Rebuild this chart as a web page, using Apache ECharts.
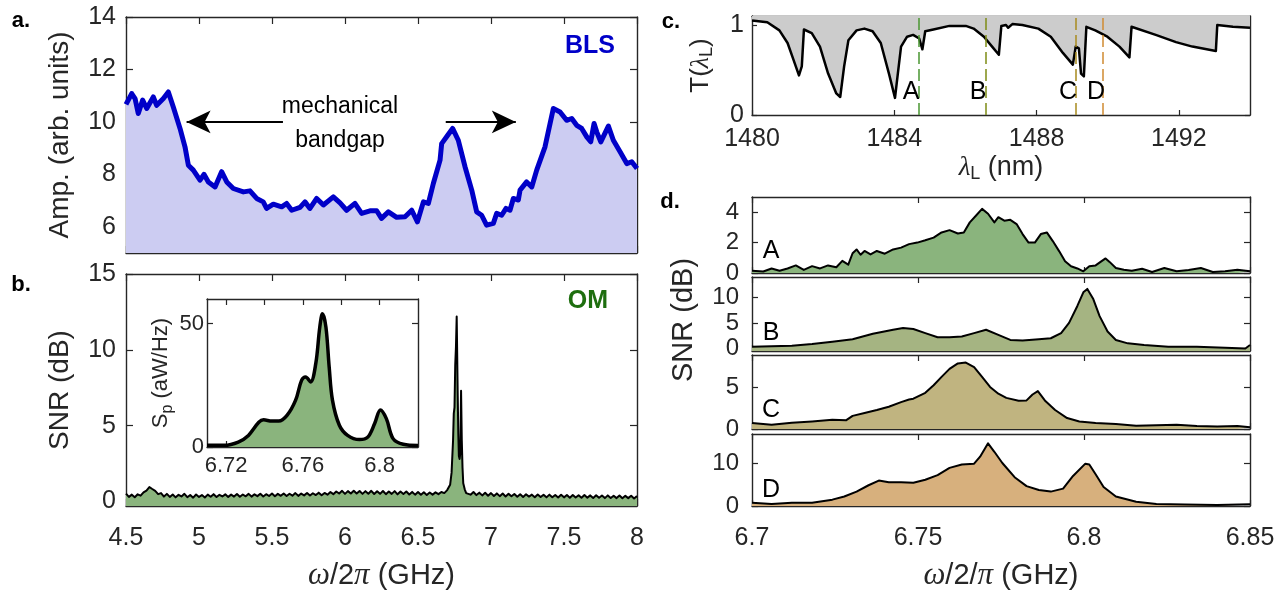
<!DOCTYPE html>
<html>
<head>
<meta charset="utf-8">
<title>BLS / OM spectra</title>
<script src="https://cdn.jsdelivr.net/npm/echarts@6/dist/echarts.min.js"></script>
<style>
  html, body { margin: 0; padding: 0; background: #fff; }
  #main { width: 1283px; height: 593px; }
</style>
</head>
<body>
<div id="main"></div>
<script>
// ---- a. BLS amplitude vs frequency (GHz, arb. units)
var blsData = [[4.500,10.67],[4.539,11.08],[4.562,10.89],[4.584,10.32],[4.614,10.83],[4.642,10.51],[4.687,10.95],[4.710,10.63],[4.756,10.89],[4.790,11.14],[4.824,10.57],[4.870,9.75],[4.904,9.05],[4.927,8.35],[4.961,8.16],[5.007,7.78],[5.034,8.00],[5.064,7.71],[5.110,7.52],[5.155,8.10],[5.190,7.71],[5.235,7.46],[5.304,7.33],[5.349,7.37],[5.395,7.08],[5.440,6.95],[5.463,6.70],[5.509,6.86],[5.566,6.76],[5.600,6.89],[5.635,6.63],[5.692,6.74],[5.726,6.95],[5.760,6.70],[5.806,7.08],[5.852,6.83],[5.920,7.14],[5.966,6.91],[6.011,6.63],[6.068,6.89],[6.114,6.51],[6.171,6.61],[6.217,6.61],[6.250,6.32],[6.297,6.57],[6.354,6.36],[6.411,6.38],[6.457,6.63],[6.496,6.19],[6.537,6.95],[6.571,6.89],[6.605,7.65],[6.651,8.54],[6.662,9.17],[6.696,9.43],[6.737,9.75],[6.776,9.30],[6.822,8.29],[6.868,7.40],[6.902,6.57],[6.936,6.44],[6.970,6.06],[7.016,6.13],[7.039,6.51],[7.073,6.44],[7.103,6.70],[7.130,6.63],[7.153,7.08],[7.187,7.02],[7.199,7.40],[7.244,7.71],[7.279,7.52],[7.313,8.16],[7.370,9.05],[7.427,10.51],[7.473,10.38],[7.518,10.06],[7.553,10.13],[7.587,9.87],[7.621,9.75],[7.656,9.43],[7.683,9.24],[7.706,9.94],[7.724,9.62],[7.752,9.24],[7.804,9.84],[7.838,9.30],[7.884,8.86],[7.930,8.41],[7.964,8.48],[8.000,8.22]];
var aYTicks = [6, 8, 10, 12, 14];
var abXTicks = [4.5, 5, 5.5, 6, 6.5, 7, 7.5, 8];

// ---- b. OM SNR (dB)
var omData = [[4.50,0.52],[4.52,0.30],[4.54,0.45],[4.56,0.28],[4.58,0.47],[4.60,0.38],[4.62,0.60],[4.64,0.72],[4.66,0.95],[4.68,0.82],[4.70,0.70],[4.72,0.48],[4.74,0.55],[4.76,0.32],[4.78,0.50],[4.80,0.30],[4.82,0.46],[4.84,0.27],[4.86,0.44],[4.88,0.33],[4.90,0.50],[4.92,0.28],[4.94,0.43],[4.96,0.25],[4.98,0.46],[5.00,0.30],[5.02,0.42],[5.04,0.26],[5.06,0.45],[5.08,0.31],[5.10,0.48],[5.12,0.29],[5.14,0.44],[5.16,0.33],[5.18,0.47],[5.20,0.30],[5.22,0.45],[5.24,0.32],[5.26,0.49],[5.28,0.31],[5.30,0.46],[5.32,0.34],[5.34,0.50],[5.36,0.32],[5.38,0.47],[5.40,0.35],[5.42,0.51],[5.44,0.33],[5.46,0.48],[5.48,0.36],[5.50,0.52],[5.52,0.34],[5.54,0.50],[5.56,0.37],[5.58,0.53],[5.60,0.36],[5.62,0.51],[5.64,0.38],[5.66,0.55],[5.68,0.37],[5.70,0.52],[5.72,0.40],[5.74,0.56],[5.76,0.39],[5.78,0.54],[5.80,0.42],[5.82,0.58],[5.84,0.41],[5.86,0.56],[5.88,0.45],[5.90,0.62],[5.92,0.48],[5.94,0.66],[5.96,0.52],[5.98,0.70],[6.00,0.50],[6.02,0.68],[6.04,0.53],[6.06,0.71],[6.08,0.52],[6.10,0.69],[6.12,0.50],[6.14,0.68],[6.16,0.51],[6.18,0.70],[6.20,0.49],[6.22,0.67],[6.24,0.50],[6.26,0.69],[6.28,0.48],[6.30,0.66],[6.32,0.50],[6.34,0.68],[6.36,0.47],[6.38,0.65],[6.40,0.49],[6.42,0.66],[6.44,0.46],[6.46,0.63],[6.48,0.45],[6.50,0.62],[6.52,0.44],[6.54,0.60],[6.56,0.43],[6.58,0.59],[6.60,0.45],[6.62,0.60],[6.64,0.48],[6.66,0.62],[6.68,0.55],[6.70,0.75],[6.72,1.1],[6.73,1.9],[6.74,4.0],[6.745,5.8],[6.75,6.2],[6.755,9.0],[6.76,10.2],[6.765,12.2],[6.768,10.0],[6.772,7.0],[6.776,4.5],[6.78,3.0],[6.785,2.8],[6.79,3.2],[6.795,7.3],[6.80,4.0],[6.805,2.2],[6.81,1.2],[6.82,0.8],[6.83,0.55],[6.84,0.68],[6.86,0.45],[6.88,0.62],[6.90,0.42],[6.92,0.58],[6.94,0.40],[6.96,0.57],[6.98,0.38],[7.00,0.55],[7.02,0.36],[7.04,0.53],[7.06,0.35],[7.08,0.52],[7.10,0.33],[7.12,0.50],[7.14,0.34],[7.16,0.49],[7.18,0.31],[7.20,0.48],[7.22,0.30],[7.24,0.47],[7.26,0.32],[7.28,0.45],[7.30,0.28],[7.32,0.46],[7.34,0.29],[7.36,0.44],[7.38,0.27],[7.40,0.45],[7.42,0.28],[7.44,0.43],[7.46,0.26],[7.48,0.44],[7.50,0.27],[7.52,0.42],[7.54,0.25],[7.56,0.43],[7.58,0.26],[7.60,0.41],[7.62,0.24],[7.64,0.42],[7.66,0.25],[7.68,0.40],[7.70,0.23],[7.72,0.41],[7.74,0.24],[7.76,0.39],[7.78,0.22],[7.80,0.40],[7.82,0.23],[7.84,0.38],[7.86,0.22],[7.88,0.39],[7.90,0.21],[7.92,0.37],[7.94,0.22],[7.96,0.38],[7.98,0.20],[8.00,0.35]];
var bYTicks = [0, 5, 10, 15];

// ---- b inset: S_p (aW/Hz)
var insetData = [[6.710,0.7],[6.719,0.7],[6.7263,2.0],[6.7316,4.7],[6.737,10.0],[6.7395,11.0],[6.7438,10.5],[6.7474,10.5],[6.7517,12.8],[6.7562,19.0],[6.7593,27.0],[6.7614,28.4],[6.764,26.4],[6.7667,33.8],[6.7688,48.6],[6.7702,54.0],[6.772,48.6],[6.7737,32.4],[6.7754,19.0],[6.779,8.8],[6.7833,4.7],[6.7895,3.0],[6.7938,4.0],[6.7974,9.5],[6.8004,15.0],[6.8035,11.5],[6.807,3.4],[6.8123,1.1],[6.820,0.6]];
var insXTicks = [6.72, 6.74, 6.76, 6.78, 6.8];
var insXLabels = [6.72, 6.76, 6.8];
var insYTicks = [0, 50];

// ---- c. transmission T(lambda)
var transData = [[1480.00,1.05],[1480.43,1.03],[1480.77,0.94],[1481.00,0.80],[1481.17,0.61],[1481.32,0.44],[1481.40,0.54],[1481.46,0.95],[1481.68,0.91],[1481.91,0.76],[1482.14,0.46],[1482.37,0.24],[1482.48,0.20],[1482.59,0.54],[1482.71,0.83],[1482.94,0.94],[1483.16,0.96],[1483.39,0.93],[1483.62,0.80],[1483.85,0.46],[1484.02,0.19],[1484.10,0.46],[1484.19,0.76],[1484.36,0.87],[1484.53,0.89],[1484.70,0.85],[1484.79,0.73],[1484.87,0.93],[1485.10,0.95],[1485.55,0.99],[1486.01,0.99],[1486.23,0.96],[1486.52,0.87],[1486.75,0.76],[1486.94,0.67],[1487.01,0.99],[1487.14,1.00],[1487.20,0.97],[1487.32,1.01],[1487.60,1.00],[1488.05,0.96],[1488.40,0.87],[1488.74,0.69],[1489.02,0.56],[1489.10,0.76],[1489.19,0.74],[1489.25,0.46],[1489.33,0.43],[1489.40,0.98],[1489.65,0.94],[1489.99,0.87],[1490.33,0.76],[1490.61,0.64],[1490.67,0.98],[1491.35,0.89],[1491.92,0.81],[1492.38,0.76],[1493.04,0.71],[1493.08,1.00],[1493.52,0.98],[1494.00,0.97]];
var cXTicks = [1480, 1484, 1488, 1492];
var cYTicks = [0, 1];
var pumpNames = ['A', 'B', 'C', 'D'];
var pumpWl = [1484.69, 1486.56, 1489.10, 1489.85];

// ---- d. SNR (dB) at the four pump wavelengths
var dA = [[6.7000,0.15],[6.7034,0.10],[6.7059,0.30],[6.7083,0.15],[6.7107,0.30],[6.7132,0.50],[6.7156,0.20],[6.7181,0.45],[6.7205,0.30],[6.7229,0.50],[6.7254,0.38],[6.7272,0.80],[6.7290,0.55],[6.7303,1.30],[6.7315,1.55],[6.7327,1.20],[6.7339,1.45],[6.7357,1.22],[6.7376,1.45],[6.7400,1.27],[6.7425,1.55],[6.7449,1.67],[6.7473,1.90],[6.7498,2.00],[6.7522,2.15],[6.7547,2.33],[6.7571,2.67],[6.7595,2.82],[6.7620,2.60],[6.7638,2.67],[6.7656,3.33],[6.7675,3.78],[6.7693,4.22],[6.7711,3.90],[6.7730,3.33],[6.7742,3.67],[6.7760,3.44],[6.7778,3.50],[6.7797,3.22],[6.7815,2.56],[6.7833,2.00],[6.7852,2.00],[6.7870,2.56],[6.7888,2.67],[6.7906,2.10],[6.7925,1.44],[6.7943,0.78],[6.7961,0.44],[6.7980,0.30],[6.7998,0.11],[6.8016,0.44],[6.8035,0.50],[6.8053,0.78],[6.8065,0.96],[6.8077,0.73],[6.8096,0.33],[6.8120,0.22],[6.8144,0.15],[6.8175,0.28],[6.8205,0.07],[6.8242,0.33],[6.8279,0.11],[6.8315,0.20],[6.8352,0.33],[6.8388,0.07],[6.8425,0.11],[6.8462,0.22],[6.8500,0.11]];
var dB = [[6.7000,0.33],[6.7059,0.45],[6.7120,0.55],[6.7181,0.87],[6.7242,1.33],[6.7303,1.80],[6.7364,2.87],[6.7425,3.67],[6.7455,4.00],[6.7486,3.80],[6.7522,3.00],[6.7559,2.20],[6.7595,2.20],[6.7632,2.33],[6.7669,3.00],[6.7705,3.67],[6.7742,2.67],[6.7778,1.67],[6.7815,1.55],[6.7864,1.80],[6.7900,2.00],[6.7931,3.00],[6.7955,5.00],[6.7980,8.33],[6.7998,11.00],[6.8010,11.67],[6.8028,9.67],[6.8047,6.33],[6.8071,3.33],[6.8096,1.67],[6.8132,1.00],[6.8181,0.67],[6.8254,0.33],[6.8340,0.33],[6.8425,0.13],[6.8486,0.00],[6.8500,0.67]];
var dC = [[6.7000,0.70],[6.7059,0.50],[6.7120,0.75],[6.7181,0.90],[6.7242,1.10],[6.7284,1.05],[6.7303,1.56],[6.7339,1.90],[6.7376,2.26],[6.7412,2.65],[6.7449,3.20],[6.7473,3.50],[6.7486,3.60],[6.7522,4.30],[6.7547,5.20],[6.7571,6.20],[6.7595,7.15],[6.7620,7.80],[6.7644,7.90],[6.7669,7.35],[6.7693,6.20],[6.7717,5.00],[6.7742,4.20],[6.7766,3.70],[6.7803,3.35],[6.7827,3.40],[6.7845,4.10],[6.7861,4.50],[6.7882,3.40],[6.7913,2.26],[6.7949,1.30],[6.7986,0.90],[6.8035,0.70],[6.8096,0.60],[6.8157,0.40],[6.8218,0.45],[6.8279,0.50],[6.8340,0.35],[6.8401,0.30],[6.8462,0.35],[6.8500,0.20]];
var dD = [[6.7000,0.75],[6.7059,0.50],[6.7120,0.75],[6.7181,0.75],[6.7242,1.50],[6.7278,2.25],[6.7315,3.40],[6.7351,4.90],[6.7382,6.00],[6.7412,5.60],[6.7449,5.60],[6.7486,5.50],[6.7522,6.20],[6.7559,7.30],[6.7595,9.00],[6.7632,9.80],[6.7669,10.00],[6.7687,11.65],[6.7711,14.80],[6.7730,12.80],[6.7754,10.15],[6.7791,6.80],[6.7827,4.70],[6.7864,3.76],[6.7900,3.40],[6.7937,4.10],[6.7967,7.10],[6.8004,10.00],[6.8016,9.80],[6.8035,7.50],[6.8059,4.50],[6.8096,2.25],[6.8157,1.00],[6.8218,0.50],[6.8303,0.37],[6.8401,0.25],[6.8500,0.40]];
var dXTicks = [6.7, 6.75, 6.8, 6.85];
var dYTicks = [[0, 2, 4], [0, 5, 10], [0, 5], [0, 10]];

var INK = '#262626';
var FONT = 'Liberation Sans';
var fills = { bls: '#ccccf2', green: '#8ab47d', A: '#8ab47d', B: '#a5b482', C: '#c0b480', D: '#d7b07d', gray: '#cccccc' };
var dashCol = ['#4a9632', '#7d8c14', '#a88a1e', '#d08a32'];

var grids = [], xAxes = [], yAxes = [];

function axis(g, pos, o, main) {
  var a = {
    type: 'value', gridIndex: g, position: pos, min: o.min, max: o.max,
    axisLine: { show: true, onZero: false, lineStyle: { color: INK, width: 1.4 } },
    axisTick: { show: true, inside: true, length: o.tick || 6, customValues: o.ticks, lineStyle: { color: INK, width: 1.2 } },
    axisLabel: { show: !!(main && o.labels), customValues: o.labels, margin: o.margin || 10,
      color: INK, fontFamily: FONT, fontSize: o.font || 25,
      formatter: function (v) { return String(v); } },
    splitLine: { show: false }
  };
  if (main && o.name) {
    a.name = o.name;
    a.nameLocation = 'middle';
    a.nameGap = o.gap;
    a.nameRotate = o.rotate || 0;
    a.nameTextStyle = { color: INK, fontFamily: FONT, fontSize: o.nameSize || 28, lineHeight: o.lh || 32, rich: o.rich || {} };
  }
  return a;
}

function box(rect, xo, yo) {
  var g = grids.length;
  grids.push({ left: rect[0], top: rect[1], width: rect[2], height: rect[3], containLabel: false });
  xAxes.push(axis(g, 'bottom', xo, true), axis(g, 'top', xo, false));
  yAxes.push(axis(g, 'left', yo, true), axis(g, 'right', yo, false));
  return 2 * g;
}

var greek = { i: { fontFamily: 'Liberation Serif', fontStyle: 'italic', fontSize: 31 } };
var subs = function (size, sub) {
  return {
    m: { fontFamily: FONT, fontSize: size, color: INK, lineHeight: 30 },
    l: { fontFamily: 'Liberation Serif', fontStyle: 'italic', fontSize: size, color: INK, lineHeight: 30 },
    s: { fontFamily: FONT, fontSize: sub, color: INK, lineHeight: 14, verticalAlign: 'bottom' }
  };
};

var ia = box([126, 17, 511, 236],
  { min: 4.5, max: 8, ticks: abXTicks, tick: 7 },
  { min: 5, max: 14, ticks: aYTicks, labels: aYTicks, tick: 7, name: 'Amp. (arb. units)', gap: 50, rotate: 90 });
var ib = box([126, 274, 511, 234],
  { min: 4.5, max: 8, ticks: abXTicks, labels: abXTicks, tick: 7, margin: 20,
    name: '{i|ω}/2{i|π} (GHz)', gap: 54, rich: greek, nameSize: 29 },
  { min: -0.3, max: 15, ticks: bYTicks, labels: bYTicks, tick: 7, name: 'SNR (dB)', gap: 50, rotate: 90 });
var ii = box([207, 299, 211, 148],
  { min: 6.71, max: 6.82, ticks: insXTicks, labels: insXLabels, font: 22, margin: 8 },
  { min: 0, max: 60, ticks: insYTicks, labels: insYTicks, font: 22, margin: 3,
    name: '{m|S}{s|p} (aW/Hz)', gap: 26, rotate: 90, nameSize: 22, lh: 30, rich: subs(22, 16) });
var ic = box([752, 16, 498, 99],
  { min: 1480, max: 1494, ticks: cXTicks, labels: cXTicks, font: 25, margin: 12, tick: 5,
    name: '{l|λ}{s|L} (nm)', gap: 33, nameSize: 27, lh: 30, rich: subs(27, 18) },
  { min: 0, max: 1.1, ticks: cYTicks, labels: cYTicks, font: 25, margin: 8, tick: 5,
    name: 'T({l|λ}{s|L})', gap: 36, rotate: 90, nameSize: 26, lh: 30, rich: subs(26, 18) });

var dRects = [[752, 197, 498, 76], [752, 277, 498, 74], [752, 355, 498, 74], [752, 434, 498, 75]];
var dRanges = [[0, 5], [-0.5, 14], [0, 8.8], [0, 17]];
var dSeriesData = [dA, dB, dC, dD];
var id = dRects.map(function (r, k) {
  var last = k === 3;
  return box(r,
    { min: 6.7, max: 6.85, ticks: dXTicks, labels: last ? dXTicks : null, font: 25, margin: 20,
      name: last ? '{i|ω}/2/{i|π} (GHz)' : null, gap: 54, rich: greek, nameSize: 29 },
    { min: dRanges[k][0], max: dRanges[k][1], ticks: dYTicks[k], labels: dYTicks[k], font: 24, margin: 13 });
});

function area(idx, data, line, lw, fill, origin, extra) {
  var s = {
    type: 'line', xAxisIndex: idx, yAxisIndex: idx, data: data, showSymbol: false, symbol: 'none',
    lineStyle: { color: line, width: lw, join: 'round' },
    areaStyle: { color: fill, opacity: 1, origin: origin || 'start' },
    silent: true, z: 3
  };
  for (var k in extra) s[k] = extra[k];
  return s;
}

var series = [
  area(ia, blsData, '#0000c8', 5, fills.bls),
  {
    type: 'line', xAxisIndex: ia, yAxisIndex: ia, data: [], silent: true,
    markLine: {
      silent: true, symbol: ['none', 'arrow'], symbolSize: [17, 24],
      lineStyle: { color: '#000', width: 2, type: 'solid' }, label: { show: false },
      data: [
        [{ coord: [5.575, 10] }, { coord: [4.915, 10] }],
        [{ coord: [6.69, 10] }, { coord: [7.17, 10] }]
      ]
    }
  },
  area(ib, omData, '#000', 2, fills.green),
  area(ii, insetData, '#000', 3.5, fills.green, 'start', { smooth: 0.35, z: 5 }),
  area(ic, transData, '#000', 2.5, fills.gray, 'end', {
    markLine: {
      silent: true, symbol: 'none', label: { show: false },
      data: pumpWl.map(function (w, k) {
        return { xAxis: w, lineStyle: { color: dashCol[k], width: 1.5, type: [12, 5] } };
      })
    }
  })
];
dSeriesData.forEach(function (d, k) {
  series.push(area(id[k], d, '#000', 2, fills[pumpNames[k]]));
});

function txt(x, y, s, o) {
  o = o || {};
  return {
    type: 'text', x: x, y: y, rotation: o.rot || 0, z: 10, silent: true,
    style: { text: s, fill: o.color || INK, font: (o.weight || 'normal') + ' ' + (o.size || 24) + 'px "' + FONT + '"',
      textAlign: o.align || 'center', textVerticalAlign: 'middle' }
  };
}

var graphics = [
  txt(21, 21, 'a.', { weight: 'bold', size: 22, color: '#000' }),
  txt(21, 285, 'b.', { weight: 'bold', size: 22, color: '#000' }),
  txt(671, 22, 'c.', { weight: 'bold', size: 22, color: '#000' }),
  txt(670, 202, 'd.', { weight: 'bold', size: 22, color: '#000' }),
  txt(590, 46, 'BLS', { weight: 'bold', size: 25, color: '#0000c8' }),
  txt(588, 301, 'OM', { weight: 'bold', size: 25, color: '#1e6e0f' }),
  txt(340, 107, 'mechanical', { size: 23, color: '#000' }),
  txt(340, 141, 'bandgap', { size: 23, color: '#000' }),
  txt(684, 320, 'SNR (dB)', { size: 29, rot: Math.PI / 2 })
];
var cLabelX = [911, 978, 1068, 1096];
pumpNames.forEach(function (n, k) {
  graphics.push(txt(cLabelX[k], 92, n, { size: 25, color: '#000' }));
});
var dLabelY = [251, 333, 410, 490];
pumpNames.forEach(function (n, k) {
  graphics.push(txt(771, dLabelY[k], n, { size: 25, color: '#000' }));
});

var chart = echarts.init(document.getElementById('main'), null, { renderer: 'canvas' });
chart.setOption({
  animation: false,
  backgroundColor: '#fff',
  textStyle: { fontFamily: FONT },
  grid: grids,
  xAxis: xAxes,
  yAxis: yAxes,
  series: series,
  graphic: graphics
});
</script>
</body>
</html>
